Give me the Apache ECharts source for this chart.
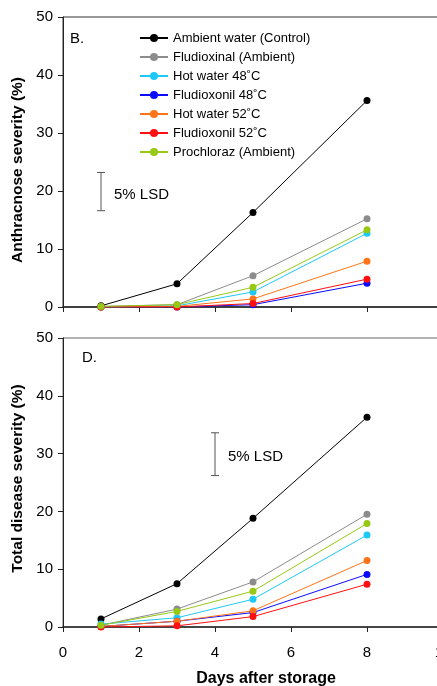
<!DOCTYPE html>
<html>
<head>
<meta charset="utf-8">
<script src="https://cdn.jsdelivr.net/npm/echarts@6/dist/echarts.min.js"></script>
<style>
  html, body { margin: 0; padding: 0; background: #fff; }
  #chart { width: 437px; height: 686px; }
</style>
</head>
<body>
<div id="chart"></div>
<script>
var days = [1, 3, 5, 8]
var names = ['Ambient water (Control)', 'Fludioxinal (Ambient)', 'Hot water 48˚C', 'Fludioxonil 48˚C', 'Hot water 52˚C', 'Fludioxonil 52˚C', 'Prochloraz (Ambient)']
var colors = ['#000000', '#8c8c8c', '#1ec8f5', '#0a0aff', '#ff7418', '#ff1010', '#96c814']

// anthracnose severity (%), panel B
var anthControl = [0.2, 4.0, 16.3, 35.6]
var anthFludAmb = [0.1, 0.4, 5.4, 15.2]
var anthHot48 = [0.0, 0.2, 2.6, 12.7]
var anthFlud48 = [0.0, 0.0, 0.4, 4.1]
var anthHot52 = [0.0, 0.1, 1.4, 7.9]
var anthFlud52 = [0.0, 0.0, 0.6, 4.8]
var anthProch = [0.1, 0.4, 3.4, 13.3]

// total disease severity (%), panel D
var totControl = [1.4, 7.5, 18.8, 36.3]
var totFludAmb = [0.3, 3.1, 7.8, 19.5]
var totHot48 = [0.5, 1.6, 4.8, 15.9]
var totFlud48 = [0.1, 1.0, 2.5, 9.1]
var totHot52 = [0.1, 1.0, 2.8, 11.5]
var totFlud52 = [0.0, 0.2, 1.8, 7.4]
var totProch = [0.3, 2.7, 6.2, 17.9]

// 5% LSD bars: [x, low, high]
var lsdTop = [1, 16.6, 23.2]
var lsdBottom = [4, 26.2, 33.6]

var font = 'Liberation Sans, Arial, sans-serif'
var chart = echarts.init(document.getElementById('chart'), null, {renderer: 'canvas'})

var topSets = [anthControl, anthFludAmb, anthHot48, anthFlud48, anthHot52, anthFlud52, anthProch]
var bottomSets = [totControl, totFludAmb, totHot48, totFlud48, totHot52, totFlud52, totProch]

function pairs (vals) {
  return vals.map(function (v, i) { return [days[i], v] })
}

var series = []
function addLines (sets, idx) {
  sets.forEach(function (vals, i) {
    series.push({
      name: names[i],
      type: 'line',
      xAxisIndex: idx,
      yAxisIndex: idx,
      data: pairs(vals),
      symbol: 'circle',
      symbolSize: 7,
      lineStyle: {width: 1, color: colors[i]},
      itemStyle: {color: colors[i]},
      animation: false
    })
  })
}
addLines(topSets, 0)
addLines(bottomSets, 1)

function lsdSeries (lsd, idx) {
  return {
    type: 'custom',
    xAxisIndex: idx,
    yAxisIndex: idx,
    data: [lsd],
    animation: false,
    silent: true,
    renderItem: function (params, api) {
      var lo = api.coord([api.value(0), api.value(1)])
      var hi = api.coord([api.value(0), api.value(2)])
      var st = {stroke: '#555', lineWidth: 1}
      return {
        type: 'group',
        children: [
          {type: 'line', shape: {x1: lo[0], y1: lo[1], x2: hi[0], y2: hi[1]}, style: st},
          {type: 'line', shape: {x1: lo[0] - 4, y1: lo[1], x2: lo[0] + 4, y2: lo[1]}, style: st},
          {type: 'line', shape: {x1: hi[0] - 4, y1: hi[1], x2: hi[0] + 4, y2: hi[1]}, style: st},
          {type: 'text', style: {text: '5% LSD', x: lo[0] + 13, y: (lo[1] + hi[1]) / 2 + 3, fill: '#000', font: '15px ' + font, textVerticalAlign: 'middle'}}
        ]
      }
    }
  }
}
series.push(lsdSeries(lsdTop, 0))
series.push(lsdSeries(lsdBottom, 1))

function xAxis (idx, showLabels) {
  return {
    type: 'value',
    gridIndex: idx,
    min: 0,
    max: 10,
    interval: 2,
    axisLine: {show: true, lineStyle: {color: '#222', width: 1.5}},
    axisTick: {show: true, inside: false, length: 5, lineStyle: {color: '#222'}},
    axisLabel: {show: showLabels, color: '#000', fontSize: 15, fontFamily: font, margin: 18},
    splitLine: {show: false},
    name: showLabels ? 'Days after storage' : '',
    nameLocation: 'middle',
    nameGap: 44,
    nameTextStyle: {color: '#000', fontSize: 16, fontWeight: 'bold', fontFamily: font, padding: [0, 0, 0, 26]}
  }
}

function yAxis (idx, title, pad) {
  return {
    type: 'value',
    gridIndex: idx,
    min: 0,
    max: 50,
    interval: 10,
    axisLine: {show: true, lineStyle: {color: '#222', width: 1}},
    axisTick: {show: true, inside: false, length: 5, lineStyle: {color: '#222'}},
    axisLabel: {color: '#000', fontSize: 15, fontFamily: font, margin: 10},
    splitLine: {show: false},
    name: title,
    nameLocation: 'middle',
    nameGap: 37,
    nameTextStyle: {color: '#000', fontSize: 15.5, fontWeight: 'bold', fontFamily: font, padding: pad}
  }
}

chart.setOption({
  backgroundColor: '#fff',
  animation: false,
  grid: [
    {left: 63, top: 17, width: 380, height: 290, show: true, borderColor: '#333', borderWidth: 1, outerBoundsMode: 'none', containLabel: false},
    {left: 63, top: 338, width: 380, height: 289, show: true, borderColor: '#666', borderWidth: 1, outerBoundsMode: 'none', containLabel: false}
  ],
  legend: {
    data: names,
    orient: 'vertical',
    left: 139,
    top: 31,
    padding: 0,
    itemWidth: 28,
    itemHeight: 10,
    itemGap: 5,
    textStyle: {color: '#000', fontSize: 13, fontFamily: font, lineHeight: 14},
    selectedMode: false
  },
  xAxis: [xAxis(0, false), xAxis(1, true)],
  yAxis: [yAxis(0, 'Anthracnose severity (%)', [0, 16, 0, 0]), yAxis(1, 'Total disease severity (%)', [0, 0, 0, 8])],
  graphic: [
    {type: 'text', left: 70, top: 31, style: {text: 'B.', font: '15px ' + font, fill: '#000'}},
    {type: 'text', left: 82, top: 350, style: {text: 'D.', font: '15px ' + font, fill: '#000'}}
  ],
  series: series
})
</script>
</body>
</html>
